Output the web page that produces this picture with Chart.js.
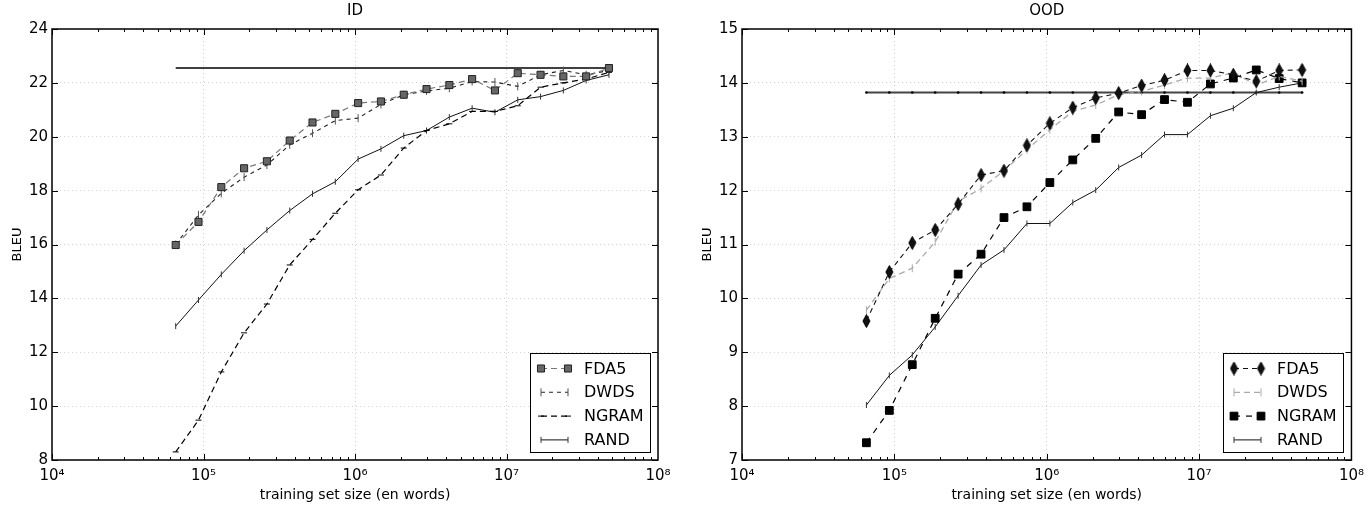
<!DOCTYPE html>
<html>
<head>
<meta charset="utf-8">
<script src="https://cdn.jsdelivr.net/npm/chart.js@4.4.0/dist/chart.umd.min.js"></script>
<style>
  body { margin: 0; background: #fff; width: 1371px; height: 506px; overflow: hidden; position: relative; }
  #wrapL { position: absolute; left: 0; top: 0; width: 685px; height: 506px; }
  #wrapR { position: absolute; left: 690px; top: 0; width: 681px; height: 506px; }
</style>
</head>
<body>
<div id="wrapL"><canvas id="idChart"></canvas></div>
<div id="wrapR"><canvas id="oodChart"></canvas></div>
<script>
// training set sizes (en words), shared by both panels
const sizes = [65536, 92682, 131072, 185364, 262144, 370728, 524288, 741455, 1048576, 1482910,
               2097152, 2965821, 4194304, 5931642, 8388608, 11863283, 16777216, 23726566, 33554432, 47453133];

const decades = [1e4, 1e5, 1e6, 1e7, 1e8];

// ID panel (BLEU)
const id_fda5  = [15.98, 16.84, 18.13, 18.83, 19.09, 19.86, 20.53, 20.85, 21.25, 21.31, 21.56, 21.77, 21.92, 22.14, 21.72, 22.36, 22.30, 22.24, 22.24, 22.55];
const id_dwds  = [16.00, 17.10, 17.90, 18.50, 18.95, 19.70, 20.13, 20.60, 20.69, 21.20, 21.56, 21.70, 21.80, 22.05, 22.03, 21.87, 22.30, 22.46, 22.30, 22.46];
const id_ngram = [8.30, 9.48, 11.27, 12.72, 13.79, 15.24, 16.19, 17.16, 18.03, 18.58, 19.58, 20.23, 20.48, 20.94, 20.94, 21.15, 21.84, 22.00, 22.14, 22.39];
const id_rand  = [12.97, 13.94, 14.89, 15.77, 16.54, 17.26, 17.88, 18.33, 19.17, 19.55, 20.04, 20.23, 20.73, 21.06, 20.91, 21.37, 21.49, 21.72, 22.09, 22.30];
const id_baseline = 22.55;

// OOD panel (BLEU)
const ood_fda5  = [9.58, 10.49, 11.03, 11.27, 11.75, 12.29, 12.37, 12.84, 13.25, 13.54, 13.72, 13.81, 13.95, 14.05, 14.23, 14.23, 14.15, 14.03, 14.23, 14.24];
const ood_dwds  = [9.78, 10.37, 10.56, 11.05, 11.80, 12.04, 12.37, 12.76, 13.13, 13.47, 13.59, 13.78, 13.84, 13.96, 14.09, 14.09, 14.19, 13.96, 14.12, 14.03];
const ood_ngram = [7.32, 7.92, 8.77, 9.63, 10.45, 10.82, 11.50, 11.70, 12.15, 12.57, 12.97, 13.46, 13.41, 13.69, 13.64, 13.98, 14.09, 14.24, 14.08, 14.00];
const ood_rand  = [8.02, 8.57, 8.95, 9.47, 10.05, 10.62, 10.90, 11.39, 11.39, 11.78, 12.01, 12.43, 12.66, 13.04, 13.04, 13.39, 13.53, 13.82, 13.92, 14.00];
const ood_baseline = 13.82;

const FONT = '"DejaVu Sans", sans-serif';

function pts(vals) {
  return sizes.map(function(x, i) { return {x: x, y: vals[i]}; });
}

// thin diamond marker (matplotlib 'd')
function thin_diamond() {
  const c = document.createElement('canvas');
  c.width = 9; c.height = 14;
  const g = c.getContext('2d');
  g.beginPath();
  g.moveTo(4.5, 0.5); g.lineTo(8, 7); g.lineTo(4.5, 13.5); g.lineTo(1, 7);
  g.closePath();
  g.fillStyle = '#111'; g.fill();
  g.strokeStyle = '#000'; g.lineWidth = 1; g.stroke();
  return c;
}

function sup(n) {
  const s = {'0':'⁰','1':'¹','2':'²','3':'³','4':'⁴','5':'⁵','6':'⁶','7':'⁷','8':'⁸','9':'⁹'};
  return String(n).split('').map(function(ch) { return s[ch]; }).join('');
}

// title centred over the plot area
const panelTitle = {
  id: 'panelTitle',
  afterDraw(chart, args, opts) {
    const a = chart.chartArea, ctx = chart.ctx;
    ctx.save();
    ctx.fillStyle = '#000';
    ctx.font = '15px ' + FONT;
    ctx.textAlign = 'center';
    ctx.textBaseline = 'middle';
    ctx.fillText(opts.text, (a.left + a.right) / 2, 11);
    ctx.restore();
  }
};

// box frame plus inward ticks on all four sides
const frameTicks = {
  id: 'frameTicks',
  afterDraw(chart) {
    const a = chart.chartArea, ctx = chart.ctx;
    const xs = chart.scales.x, ys = chart.scales.y;
    ctx.save();
    ctx.strokeStyle = '#000';
    ctx.lineWidth = 1;
    function seg(x1, y1, x2, y2) { ctx.beginPath(); ctx.moveTo(x1, y1); ctx.lineTo(x2, y2); ctx.stroke(); }
    ys.ticks.forEach(function(t) {
      const y = Math.round(ys.getPixelForValue(t.value)) + 0.5;
      seg(a.left, y, a.left + 6, y);
      seg(a.right - 6, y, a.right, y);
    });
    for (let e = 4; e < 8; e++) {
      for (let m = 1; m < 10; m++) {
        const x = Math.round(xs.getPixelForValue(m * Math.pow(10, e))) + 0.5;
        const len = (m == 1) ? 6 : 3;
        seg(x, a.bottom, x, a.bottom - len);
        seg(x, a.top, x, a.top + len);
      }
    }
    ctx.lineWidth = 1.5;
    ctx.strokeRect(a.left, a.top, a.right - a.left, a.bottom - a.top);
    ctx.restore();
  }
};

// legend box in the lower right corner of the plot area
const legendBox = {
  id: 'legendBox',
  afterDatasetsDraw(chart) {
    const a = chart.chartArea, ctx = chart.ctx;
    const items = chart.data.datasets.filter(function(d) { return d.label; });
    const w = 120, h = 99;
    const x0 = Math.round(a.right - 8 - w), y0 = Math.round(a.bottom - 8 - h);
    ctx.save();
    ctx.fillStyle = '#fff';
    ctx.fillRect(x0, y0, w, h);
    ctx.strokeStyle = '#000';
    ctx.lineWidth = 1;
    ctx.strokeRect(x0 + 0.5, y0 + 0.5, w, h);
    items.forEach(function(d, i) {
      const y = y0 + 15.5 + i * 23.8;
      const xa = x0 + 11, xb = x0 + 38;
      ctx.strokeStyle = d.borderColor;
      ctx.lineWidth = d.borderWidth;
      ctx.setLineDash(d.borderDash || []);
      ctx.beginPath(); ctx.moveTo(xa, y); ctx.lineTo(xb, y); ctx.stroke();
      ctx.setLineDash([]);
      if (d.pointRadius > 0 && Chart.helpers && Chart.helpers.drawPoint) {
        [xa, xb].forEach(function(px) {
          ctx.fillStyle = d.pointBackgroundColor;
          ctx.strokeStyle = d.pointBorderColor;
          ctx.lineWidth = 1;
          Chart.helpers.drawPoint(ctx, {
            pointStyle: d.pointStyle, radius: d.pointRadius,
            rotation: d.pointRotation || 0, borderWidth: 1
          }, px, y);
        });
      }
      ctx.fillStyle = '#000';
      ctx.font = '16px ' + FONT;
      ctx.textAlign = 'left';
      ctx.textBaseline = 'middle';
      ctx.fillText(d.label, x0 + 54, y + 1);
    });
    ctx.restore();
  }
};

function make_chart(canvas_id, title, datasets, ymin, ymax, ystep, pad_right) {
  const ctx = document.getElementById(canvas_id).getContext('2d');
  return new Chart(ctx, {
    type: 'line',
    data: { datasets: datasets },
    plugins: [panelTitle, legendBox, frameTicks],
    options: {
      responsive: true,
      maintainAspectRatio: false,
      animation: false,
      layout: { padding: { top: 29, right: pad_right, left: 0, bottom: 0 } },
      elements: { line: { tension: 0 } },
      plugins: {
        legend: { display: false },
        tooltip: { enabled: false },
        panelTitle: { text: title }
      },
      scales: {
        x: {
          type: 'logarithmic',
          min: 1e4,
          max: 1e8,
          afterBuildTicks: function(scale) {
            scale.ticks = decades.map(function(v) { return {value: v}; });
          },
          afterFit: function(scale) { scale.height = 46; },
          grid: { color: '#d4d4d4', lineWidth: 1, drawTicks: false },
          border: { display: false, dash: [1, 3] },
          ticks: {
            autoSkip: false, maxRotation: 0, padding: 7,
            color: '#000', font: { family: FONT, size: 15 },
            callback: function(v) { return '10' + sup(Math.round(Math.log10(v))); }
          },
          title: {
            display: true, text: 'training set size (en words)', color: '#000',
            font: { family: FONT, size: 14 }, padding: { top: 0, bottom: 2 }
          }
        },
        y: {
          min: ymin,
          max: ymax,
          afterFit: function(scale) { scale.width = 52; },
          grid: { color: '#d4d4d4', lineWidth: 1, drawTicks: false },
          border: { display: false, dash: [1, 3] },
          ticks: {
            stepSize: ystep, padding: 4,
            color: '#000', font: { family: FONT, size: 15 }
          },
          title: {
            display: true, text: 'BLEU', color: '#000',
            font: { family: FONT, size: 13 }, padding: { top: 10, bottom: 0 }
          }
        }
      }
    }
  });
}

const diamond = thin_diamond();

const id_sets = [{
  label: 'FDA5', data: pts(id_fda5),
  borderColor: '#777', borderWidth: 1.2, borderDash: [6, 4],
  pointStyle: 'rect', pointRadius: 5, pointBackgroundColor: '#666', pointBorderColor: '#222', pointBorderWidth: 1
}, {
  label: 'DWDS', data: pts(id_dwds),
  borderColor: '#222', borderWidth: 1.1, borderDash: [4, 4],
  pointStyle: 'line', pointRotation: 90, pointRadius: 4, pointBackgroundColor: '#555', pointBorderColor: '#555', pointBorderWidth: 1
}, {
  label: 'NGRAM', data: pts(id_ngram),
  borderColor: '#000', borderWidth: 1.2, borderDash: [6, 4],
  pointStyle: 'line', pointRotation: 0, pointRadius: 3, pointBackgroundColor: '#000', pointBorderColor: '#000', pointBorderWidth: 1
}, {
  label: 'RAND', data: pts(id_rand),
  borderColor: '#111', borderWidth: 1, borderDash: [],
  pointStyle: 'line', pointRotation: 90, pointRadius: 3, pointBackgroundColor: '#333', pointBorderColor: '#333', pointBorderWidth: 1
}, {
  data: [{x: sizes[0], y: id_baseline}, {x: sizes[sizes.length - 1], y: id_baseline}],
  borderColor: '#000', borderWidth: 1.5, pointRadius: 0
}];

const ood_sets = [{
  label: 'FDA5', data: pts(ood_fda5),
  borderColor: '#111', borderWidth: 1.1, borderDash: [5, 4],
  pointStyle: diamond, pointRadius: 5, pointBackgroundColor: '#111', pointBorderColor: '#000', pointBorderWidth: 1
}, {
  label: 'DWDS', data: pts(ood_dwds),
  borderColor: '#aaa', borderWidth: 1.3, borderDash: [6, 4],
  pointStyle: 'line', pointRotation: 90, pointRadius: 4, pointBackgroundColor: '#aaa', pointBorderColor: '#aaa', pointBorderWidth: 1
}, {
  label: 'NGRAM', data: pts(ood_ngram),
  borderColor: '#000', borderWidth: 1.2, borderDash: [6, 6],
  pointStyle: 'rect', pointRadius: 5.5, pointBackgroundColor: '#000', pointBorderColor: '#000', pointBorderWidth: 1
}, {
  label: 'RAND', data: pts(ood_rand),
  borderColor: '#111', borderWidth: 1, borderDash: [],
  pointStyle: 'line', pointRotation: 90, pointRadius: 3, pointBackgroundColor: '#333', pointBorderColor: '#333', pointBorderWidth: 1
}, {
  data: pts(sizes.map(function() { return ood_baseline; })),
  borderColor: '#444', borderWidth: 2, pointStyle: 'circle', pointRadius: 1.3,
  pointBackgroundColor: '#000', pointBorderColor: '#000', pointBorderWidth: 0
}];

make_chart('idChart', 'ID', id_sets, 8, 24, 2, 27);
make_chart('oodChart', 'OOD', ood_sets, 7, 15, 1, 16);
</script>
</body>
</html>
